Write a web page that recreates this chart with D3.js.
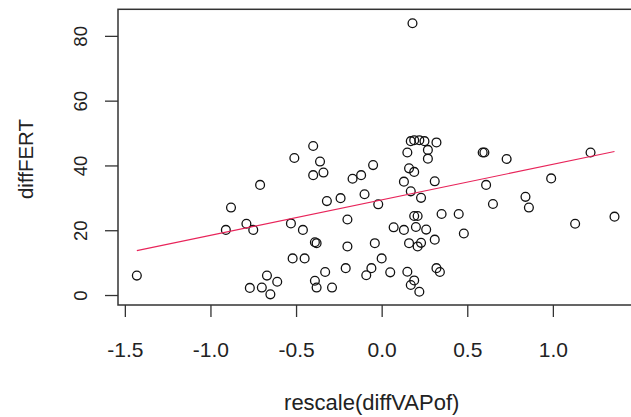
<!DOCTYPE html>
<html>
<head>
<meta charset="utf-8">
<script src="https://cdn.jsdelivr.net/npm/d3@7"></script>
<style>
  body { margin: 0; background: #fff; }
  svg { display: block; font-family: "Liberation Sans", Arial, sans-serif; }
</style>
</head>
<body>
<script>
const width = 631;
const height = 417;

// values
const diffVAPof = [
  -1.43, -0.91, -0.88, -0.79, -0.75, -0.71, -0.67, -0.61, -0.77, -0.70,
  -0.65, -0.51, -0.40, -0.36, -0.40, -0.34, -0.32, -0.24, -0.20, -0.53,
  -0.46, -0.39, -0.38, -0.20, -0.52, -0.45, -0.33, -0.21, -0.39, -0.38,
  -0.29, -0.17, -0.12, -0.10, -0.05, -0.02, -0.04, 0.00, -0.06, -0.09,
  0.05, 0.15, 0.19, 0.17, 0.22, 0.07, 0.13, 0.20, 0.26, 0.48,
  0.16, 0.21, 0.23, 0.31, 0.32, 0.34, 0.19, 0.21, 0.35, 0.45,
  0.13, 0.31, 0.17, 0.23, 0.16, 0.19, 0.15, 0.27, 0.27, 0.17,
  0.19, 0.22, 0.25, 0.32, 0.18, 0.59, 0.60, 0.73, 1.22, 0.61,
  0.99, 0.65, 0.84, 0.86, 1.13, 1.36
];
const diffFERT = [
  6.0, 20.1, 27.0, 22.0, 20.1, 34.0, 6.0, 4.1, 2.2, 2.3,
  0.2, 42.3, 46.0, 41.2, 37.0, 37.8, 29.0, 29.9, 23.3, 22.1,
  20.1, 16.3, 16.0, 15.0, 11.3, 11.3, 7.1, 8.3, 4.4, 2.3,
  2.3, 35.9, 37.0, 31.1, 40.1, 28.0, 16.0, 11.3, 8.3, 6.1,
  7.0, 7.2, 4.5, 3.1, 1.0, 20.9, 20.1, 21.0, 20.2, 19.0,
  16.0, 15.0, 16.1, 17.1, 8.3, 7.1, 24.4, 24.4, 25.0, 25.0,
  35.0, 35.1, 32.0, 30.0, 39.1, 38.0, 44.0, 44.8, 42.1, 47.5,
  47.8, 47.8, 47.5, 47.1, 83.9, 44.0, 44.0, 42.0, 44.0, 34.0,
  36.0, 28.1, 30.3, 27.0, 22.0, 24.2
];
// fitted line, read at the ends of the data range
const fitX = [-1.43, 1.36];
const fitY = [13.7, 44.3];

const xTicks = [-1.5, -1.0, -0.5, 0.0, 0.5, 1.0];
const yTicks = [0, 20, 40, 60, 80];

const box = { left: 118, right: 633, top: 9.3, bottom: 305 };

const x = d3.scaleLinear().domain([-1.54, 1.468]).range([box.left, box.right]);
const y = d3.scaleLinear().domain([-3.08, 88.2]).range([box.bottom, box.top]);

const svg = d3.select('body').append('svg')
  .attr('width', width)
  .attr('height', height);

const points = d3.zip(diffVAPof, diffFERT);

svg.append('g')
  .selectAll('circle')
  .data(points)
  .join('circle')
  .attr('cx', d => x(d[0]))
  .attr('cy', d => y(d[1]))
  .attr('r', 4.4)
  .attr('fill', 'none')
  .attr('stroke', '#111')
  .attr('stroke-width', 1.3);

svg.append('path')
  .datum(d3.zip(fitX, fitY))
  .attr('d', d3.line().x(d => x(d[0])).y(d => y(d[1])))
  .attr('fill', 'none')
  .attr('stroke', '#e8245a')
  .attr('stroke-width', 1.1);

// box
svg.append('rect')
  .attr('x', box.left)
  .attr('y', box.top)
  .attr('width', box.right - box.left)
  .attr('height', box.bottom - box.top)
  .attr('fill', 'none')
  .attr('stroke', '#333')
  .attr('stroke-width', 1.5);

const xAxis = svg.append('g')
  .attr('transform', `translate(0,${box.bottom})`)
  .call(d3.axisBottom(x).tickValues(xTicks).tickSize(12).tickFormat(d => d.toFixed(1)));
xAxis.select('.domain').remove();
xAxis.selectAll('line').attr('stroke', '#333').attr('stroke-width', 1.3);
xAxis.selectAll('text')
  .attr('y', 52).attr('dy', null)
  .attr('fill', '#222')
  .style('font-size', '21px');

const yAxis = svg.append('g')
  .attr('transform', `translate(${box.left},0)`)
  .call(d3.axisLeft(y).tickValues(yTicks).tickSize(13));
yAxis.select('.domain').remove();
yAxis.selectAll('line').attr('stroke', '#333').attr('stroke-width', 1.3);
yAxis.selectAll('text')
  .attr('transform', 'rotate(-90)')
  .attr('x', 0).attr('y', -30.7).attr('dy', null)
  .attr('text-anchor', 'middle')
  .attr('fill', '#222')
  .style('font-size', '18.5px');

svg.append('text')
  .attr('x', 371.7)
  .attr('y', 410)
  .attr('text-anchor', 'middle')
  .attr('fill', '#222')
  .style('font-size', '22px')
  .text('rescale(diffVAPof)');

svg.append('text')
  .attr('transform', 'translate(33.3,159) rotate(-90)')
  .attr('text-anchor', 'middle')
  .attr('fill', '#222')
  .style('font-size', '20.5px')
  .text('diffFERT');
</script>
</body>
</html>
